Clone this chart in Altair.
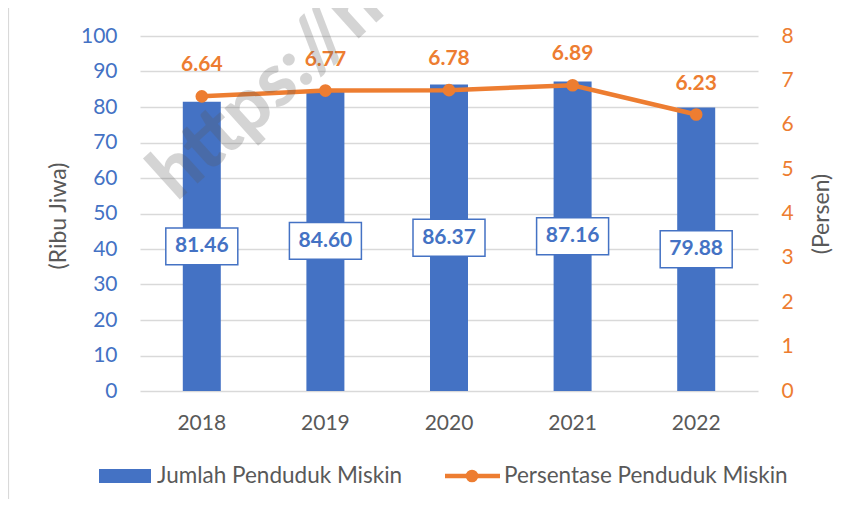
import altair as alt
import pandas as pd

years = ["2018", "2019", "2020", "2021", "2022"]
jumlah = [81.46, 84.60, 86.37, 87.16, 79.88]
persen = [6.64, 6.77, 6.78, 6.89, 6.23]
legend_labels = ["Jumlah Penduduk Miskin", "Persentase Penduduk Miskin"]
watermark = "https://h"

BLUE = "#4472C4"
ORANGE = "#ED7D31"
GRAY = "#595959"
FONT = "Lato"

df = pd.DataFrame({"year": years, "jumlah": jumlah, "persen": persen})
one = pd.DataFrame({"k": [0]})

W, H = 618, 355

x_enc = alt.X("year:N", title=None, sort=years,
              scale=alt.Scale(paddingInner=0, paddingOuter=0),
              axis=alt.Axis(labelAngle=0, ticks=False, domain=False, labelColor=GRAY,
                            labelFontSize=21, labelPadding=21, labelFont=FONT))

left_axis = alt.Axis(values=list(range(0, 101, 10)), ticks=False, tickSize=0, domain=False,
                     labelColor=BLUE, labelFontSize=21, labelPadding=23, labelFont=FONT,
                     grid=True, gridColor="#d9d9d9", gridWidth=1.3,
                     title="(Ribu Jiwa)", titleColor=GRAY, titleFontSize=23, titleFontWeight="normal",
                     titleFont=FONT, titleAngle=270, titleX=-82, titleY=H / 2 + 2,
                     titleAlign="center", titleBaseline="middle")
left_scale = alt.Scale(domain=[0, 100], nice=False, zero=True)

right_axis = alt.Axis(values=list(range(0, 9)), ticks=False, tickSize=0, domain=False, orient="right",
                      labelColor=ORANGE, labelFontSize=21, labelPadding=23, labelFont=FONT, grid=False,
                      title="(Persen)", titleColor=GRAY, titleFontSize=23, titleFontWeight="normal",
                      titleFont=FONT, titleAngle=270, titleX=63, titleY=H / 2,
                      titleAlign="center", titleBaseline="middle")
right_scale = alt.Scale(domain=[0, 8], nice=False, zero=True)

base = alt.Chart(df)

bars = base.mark_bar(color=BLUE, size=38).encode(
    x=x_enc, y=alt.Y("jumlah:Q", scale=left_scale, axis=left_axis))

boxes = base.transform_calculate(
    lo="datum.jumlah / 2 - 5.2", hi="datum.jumlah / 2 + 5.2"
).mark_bar(size=72, fill="white", stroke=BLUE, strokeWidth=1.5).encode(
    x=x_enc, y=alt.Y("lo:Q", scale=left_scale, axis=left_axis), y2="hi:Q")

bar_text = base.transform_calculate(mid="datum.jumlah / 2").mark_text(
    color=BLUE, fontSize=21, fontWeight="bold", font=FONT, baseline="middle"
).encode(x=x_enc, y=alt.Y("mid:Q", scale=left_scale, axis=left_axis),
         text=alt.Text("jumlah:Q", format=".2f"))

left = alt.layer(bars, boxes, bar_text)

line = base.mark_line(color=ORANGE, strokeWidth=4.5).encode(
    x=x_enc, y=alt.Y("persen:Q", scale=right_scale, axis=right_axis))
pts = base.mark_point(color=ORANGE, filled=True, opacity=1, size=160).encode(
    x=x_enc, y=alt.Y("persen:Q", scale=right_scale, axis=right_axis))
line_text = base.mark_text(color=ORANGE, fontSize=21, fontWeight="bold", font=FONT,
                           baseline="middle", dy=-31).encode(
    x=x_enc, y=alt.Y("persen:Q", scale=right_scale, axis=right_axis),
    text=alt.Text("persen:Q", format=".2f"))

right = alt.layer(line, pts, line_text)

wm = alt.Chart(one).mark_text(color=GRAY, opacity=0.25, fontSize=74, fontWeight=900,
                              font=FONT, angle=318, align="left", baseline="middle").encode(
    x=alt.value(22), y=alt.value(150), text=alt.value(watermark))

frame = alt.Chart(one).mark_rect(fill=None, stroke="#d9d9d9", strokeWidth=1.2).encode(
    x=alt.value(-131.5), x2=alt.value(760), y=alt.value(-28.5), y2=alt.value(520))

leg_rect = alt.Chart(one).mark_rect(color=BLUE).encode(
    x=alt.value(-41), x2=alt.value(11), y=alt.value(433), y2=alt.value(447))
leg_t1 = alt.Chart(one).mark_text(color=GRAY, fontSize=22.5, font=FONT, align="left",
                                  baseline="middle").encode(
    x=alt.value(17), y=alt.value(440), text=alt.value(legend_labels[0]))
leg_line = alt.Chart(one).mark_rule(color=ORANGE, strokeWidth=4.5).encode(
    x=alt.value(305), x2=alt.value(360), y=alt.value(440))
leg_pt = alt.Chart(one).mark_point(color=ORANGE, filled=True, opacity=1, size=160).encode(
    x=alt.value(332), y=alt.value(440))
leg_t2 = alt.Chart(one).mark_text(color=GRAY, fontSize=22.5, font=FONT, align="left",
                                  baseline="middle").encode(
    x=alt.value(364), y=alt.value(440), text=alt.value(legend_labels[1]))

chart = alt.layer(frame, left, right, wm, leg_rect, leg_t1, leg_line, leg_pt, leg_t2).resolve_scale(
    y="independent"
).properties(
    width=W, height=H,
    autosize=alt.AutoSizeParams(type="none"),
    padding={"left": 132, "top": 28, "right": 100, "bottom": 108},
    background="white",
).configure_view(stroke=None)

chart.save("out.html", embed_options={"renderer": "svg", "actions": False})
